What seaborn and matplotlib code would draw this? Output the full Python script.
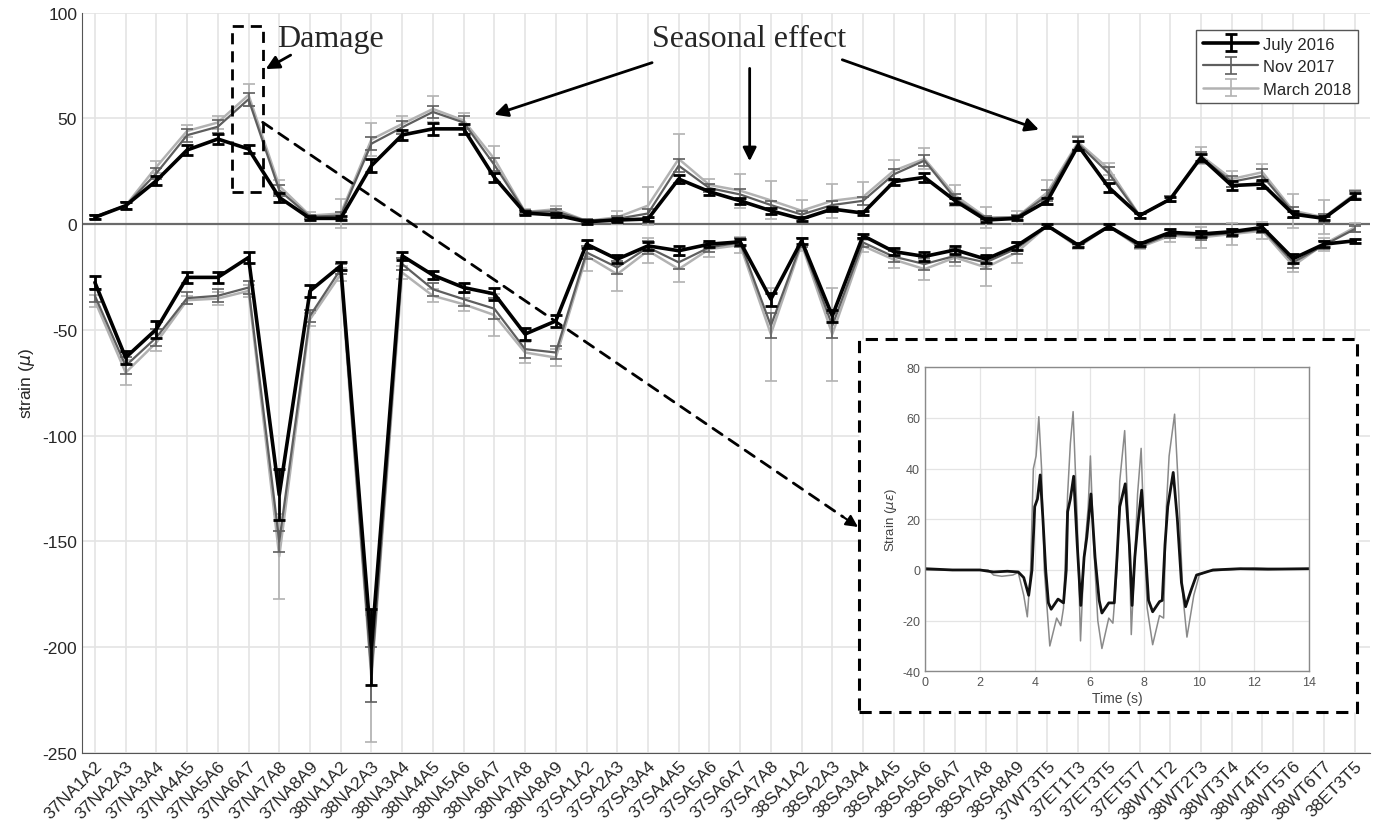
"""
Strain per gauge pair, three surveys, with a time-history inset
"""

import seaborn as sns
import matplotlib as mpl
mpl.use('Agg')
import matplotlib.pyplot as plt
import matplotlib.patches as patches
from matplotlib.legend_handler import HandlerTuple
import numpy as np

gauges = ['37NA1A2', '37NA2A3', '37NA3A4', '37NA4A5', '37NA5A6', '37NA6A7', '37NA7A8',
	'37NA8A9', '38NA1A2', '38NA2A3', '38NA3A4', '38NA4A5', '38NA5A6', '38NA6A7',
	'38NA7A8', '38NA8A9', '37SA1A2', '37SA2A3', '37SA3A4', '37SA4A5', '37SA5A6',
	'37SA6A7', '37SA7A8', '38SA1A2', '38SA2A3', '38SA3A4', '38SA4A5', '38SA5A6',
	'38SA6A7', '38SA7A8', '38SA8A9', '37WT3T5', '37ET1T3', '37ET3T5', '37ET5T7',
	'38WT1T2', '38WT2T3', '38WT3T4', '38WT4T5', '38WT5T6', '38WT6T7', '38ET3T5']

july_pos = [3.2, 8.7, 20.5, 35, 40.2, 35.5, 12.6, 2.7, 2.7, 27.6, 42.1, 45, 45, 22.1, 5.2, 4.3,
	1.1, 1.9, 2.4, 21.3, 15.3, 11, 6.3, 2.4, 7.1, 5.2, 20, 22.1, 11, 1.9, 2.7, 11, 37.1, 17.3,
	4, 11.8, 31.5, 18.2, 18.9, 4.7, 2.7, 13.4]
july_pos_err = [1, 1.5, 2, 2.5, 2.5, 2, 2, 1, 1, 3, 2.5, 3, 2.5, 2, 1, 1, 1, 1, 1, 2, 1.5, 1.5,
	1.5, 1, 1, 1, 1.5, 2, 1.5, 1, 1, 1.5, 2, 2, 1, 1, 1.5, 2, 2, 1.5, 1, 1.5]
july_neg = [-27.6, -63.1, -49.7, -25.2, -25.2, -15.8, -128, -31.6, -19.7, -200, -15, -24.1, -30,
	-33, -52, -45.8, -9.5, -16.6, -10.3, -12.6, -9.5, -8.4, -35.5, -7.9, -43.4, -5.5, -13, -15.3,
	-12.2, -16.6, -10.3, -0.8, -9.9, -1.1, -9.5, -3.9, -4.7, -3.6, -1.6, -16.3, -9.5, -7.9]
july_neg_err = [3, 3, 4, 2.5, 2.5, 2.5, 12, 3, 2, 18, 2, 2, 2, 3, 3, 3, 2, 2, 2, 2, 1.5, 1.5, 3,
	1.5, 3, 1, 1.5, 2, 2, 2, 2, 1, 1, 1, 1, 1.5, 1.5, 1.5, 1.5, 2, 1.5, 1]

nov_pos = [3.5, 8.7, 24, 42, 46, 59, 16, 3.5, 4, 38, 45.7, 53, 48, 28, 5.7, 6, 1.5, 2.5, 5, 27.6,
	17, 14, 9, 4.5, 9, 11, 23.5, 30, 12, 2.7, 3.2, 13.5, 38, 24, 4, 11.8, 31.5, 20, 22.8, 5.5,
	2.7, 13.4]
nov_pos_err = [1, 1.5, 2.5, 3, 3, 3, 2.5, 1, 1.5, 3, 3, 3, 3, 3, 1, 1, 1, 1.5, 2, 3, 2, 2.5, 2,
	1.5, 2, 2, 2.5, 2.5, 2, 1, 1, 2.5, 3, 3, 1, 1.5, 2.5, 2.5, 3, 2.5, 2, 2]
nov_neg = [-33.9, -67, -53.6, -35, -33.9, -30, -150, -43.4, -21.3, -213, -18.9, -30.8, -35.5, -40,
	-59.1, -60.7, -13.4, -20.5, -11, -18.1, -11, -8.7, -48, -8.7, -48, -8.7, -15.4, -18.9, -15,
	-18.1, -11.5, -0.8, -10.5, -1.1, -10.5, -4.7, -5.5, -4.2, -2.4, -18.1, -10, -2.4]
nov_neg_err = [3, 4, 4, 3, 3, 3, 5, 3, 2.5, 13, 3, 3, 3, 5, 4, 3, 3, 3, 3, 3, 2, 2, 6, 2, 6, 2,
	2.5, 3, 3, 3, 2.5, 1, 1, 1, 1, 2, 2, 2, 2, 2.5, 2, 1.5]

march_pos = [3.5, 8.7, 27, 44, 48, 61, 18, 4, 5, 40, 47.3, 54.4, 49, 30.8, 5.7, 7, 1.5, 3.2, 8.7,
	30.8, 18.5, 15.8, 11.2, 6.3, 11, 12.8, 25.2, 30.8, 13.5, 3.2, 3.2, 15, 38.7, 26, 4, 11.8,
	32.4, 21.3, 24.5, 6.3, 3.2, 14.2]
march_pos_err = [1, 1.5, 3, 3, 3, 5, 3, 1.5, 7, 8, 4, 6, 3.5, 6, 1.5, 1.5, 1, 3, 9, 12, 3, 8, 9,
	5, 8, 7, 5, 5, 5, 5, 3, 6, 3, 3, 1, 1.5, 4, 4, 4, 8, 8, 2]
march_neg = [-36.3, -70.2, -56, -36, -35.2, -31.6, -157, -45, -23.7, -215, -22.9, -33.9, -37.9,
	-43, -60.7, -63.1, -15, -23.7, -12.6, -21.3, -11.8, -9.9, -52, -9.5, -52, -10.3, -16.8, -21.3,
	-15.8, -20.5, -13.4, -0.8, -11, -1.1, -11, -5.5, -6.3, -4.7, -3.2, -19.7, -9.5, -1.6]
march_neg_err = [3, 6, 4, 2, 3, 3, 20, 3, 3, 30, 3, 3, 3, 10, 5, 4, 7, 8, 6, 6, 4, 4, 22, 3, 22,
	3, 4, 5, 4, 9, 5, 1, 1, 1, 1, 3, 5, 5, 4, 3, 3, 2]

# inset time history
inset_time_thin = [0, 1, 2.3, 2.5, 2.8, 3.2, 3.4, 3.6, 3.73, 3.85, 3.95, 4.05, 4.15, 4.25, 4.35,
	4.55, 4.8, 4.95, 5.05, 5.2, 5.3, 5.4, 5.55, 5.67, 5.8, 5.95, 6.03, 6.15, 6.3, 6.45, 6.7, 6.85,
	7.0, 7.1, 7.28, 7.45, 7.52, 7.65, 7.75, 7.88, 8.0, 8.1, 8.3, 8.55, 8.7, 8.8, 8.9, 9.1, 9.25,
	9.4, 9.55, 9.8, 10.0, 10.3, 11, 12, 13, 14]
inset_strain_thin = [0, 0, 0, -2, -2.5, -2, -1, -10, -18.5, 0, 40, 45, 60.5, 40, 0, -30, -19, -22,
	-15, 30, 50, 62.5, 20, -28, 5, 25, 45, 10, -20, -31, -19, -21, 0, 35, 55, 10, -25.5, 5, 30,
	48, 10, -15, -29.5, -18, -19, 25, 45, 61.5, 30, -10, -26.5, -10, -2, -0.5, 0, 0.8, 0.5, 0.5]
inset_time_thick = [0, 1, 2, 2.5, 3.0, 3.4, 3.6, 3.78, 3.9, 4.0, 4.1, 4.2, 4.3, 4.4, 4.5, 4.6,
	4.85, 5.05, 5.15, 5.2, 5.3, 5.42, 5.55, 5.68, 5.8, 5.9, 6.05, 6.2, 6.35, 6.45, 6.7, 6.9, 7.0,
	7.1, 7.3, 7.45, 7.55, 7.65, 7.75, 7.9, 8.05, 8.15, 8.3, 8.55, 8.65, 8.75, 8.85, 9.05, 9.2,
	9.35, 9.5, 9.7, 9.9, 10.2, 10.5, 11.5, 12.5, 14]
inset_strain_thick = [0.5, 0, 0, -0.8, -0.5, -0.8, -3, -10, 0, 25, 28, 37.5, 20, 0, -13, -15.5,
	-11.5, -13, 0, 23, 28, 37, 10, -14, 5, 13, 30, 5, -12, -17, -13, -13, 5, 25, 34, 10, -14, 5,
	17, 31.5, 5, -12, -16.5, -12.5, -12, 10, 25, 38.5, 20, -5, -14.5, -8, -2, -1, 0, 0.5, 0.3, 0.5]

def draw_main(ax):
	x = np.arange(len(gauges))
	surveys = [
		("March 2018", march_pos, march_pos_err, march_neg, march_neg_err, '#b2b2b2', 1.8, 1.2, 2),
		("Nov 2017", nov_pos, nov_pos_err, nov_neg, nov_neg_err, '#5e5e5e', 1.6, 1.2, 3),
		("July 2016", july_pos, july_pos_err, july_neg, july_neg_err, '#000000', 2.6, 2.0, 4),
	]
	handles = {}
	for name, pos, pos_err, neg, neg_err, color, lw, elw, z in surveys:
		sns.lineplot(x=x, y=pos, color=color, lw=lw, ax=ax, zorder=z)
		line = ax.lines[-1]
		sns.lineplot(x=x, y=neg, color=color, lw=lw, ax=ax, zorder=z)
		bars = ax.errorbar(x, pos, yerr=pos_err, fmt='none', ecolor=color, elinewidth=elw,
			capsize=4.5, capthick=elw, zorder=z)
		ax.errorbar(x, neg, yerr=neg_err, fmt='none', ecolor=color, elinewidth=elw,
			capsize=4.5, capthick=elw, zorder=z)
		handles[name] = (line, bars)

	ax.axhline(0, color='#6a6a6a', lw=1.6, zorder=1)
	ax.set_xlim(-0.42, len(gauges) - 0.5)
	ax.set_ylim(-250, 100)
	ax.set_xticks(x)
	ax.set_xticklabels(gauges, rotation=45, ha='right', rotation_mode='anchor', fontsize=12.5)
	ax.set_yticks(np.arange(-250, 101, 50))
	ax.tick_params(axis='y', labelsize=12.5)
	ax.tick_params(direction='in', length=5, color='#555555', labelcolor='#262626')
	ax.grid(True, color='#e4e4e4', lw=1.2)
	ax.set_axisbelow(True)
	for side in ['top', 'right']:
		ax.spines[side].set_visible(False)
	for side in ['left', 'bottom']:
		ax.spines[side].set_color('#555555')
	ax.set_ylabel('strain ($\\mu$)', fontsize=12.5, color='#262626')
	ax.set_xlabel('')

	order = ["July 2016", "Nov 2017", "March 2018"]
	leg = ax.legend([handles[n] for n in order], order, handler_map={tuple: HandlerTuple(ndivide=1)},
		loc='upper right', bbox_to_anchor=(0.9907, 0.9764), borderaxespad=0, fontsize=12,
		frameon=True, fancybox=False, edgecolor='#555555', handlelength=3.3, handletextpad=0.3,
		framealpha=1, borderpad=0.4, labelspacing=0.45)
	leg.set_zorder(10)

def draw_notes(fig, ax):
	serif = 'Liberation Serif'
	ax.text(7.68, 87.5, 'Damage', fontsize=23, family=serif, ha='center', va='center')
	ax.text(21.28, 87.5, 'Seasonal effect', fontsize=23, family=serif, ha='center', va='center')
	ax.add_patch(patches.Rectangle((4.45, 15), 1.01, 78.7, fill=False, ec='black', lw=2,
		ls=(0, (4, 2.5)), zorder=6))
	arrow = dict(arrowstyle='-|>', color='black', lw=2, mutation_scale=20)
	ax.annotate('', xy=(5.48, 72.6), xytext=(6.45, 80.5), arrowprops=arrow)
	ax.annotate('', xy=(12.91, 51.3), xytext=(18.22, 76.7), arrowprops=arrow)
	ax.annotate('', xy=(21.31, 28.4), xytext=(21.31, 74.9), arrowprops=arrow)
	ax.annotate('', xy=(30.81, 44.2), xytext=(24.24, 78.1), arrowprops=arrow)

	# dashed leader from the damage box to the inset
	W, H = 1376.0, 829.0
	tip = np.array([858.0, 528.0])
	start = np.array([262.7, 123.3])
	unit = (tip - start) / np.hypot(*(tip - start))
	neck = tip - 18 * unit
	ax.annotate('', xy=(neck[0] / W, 1 - neck[1] / H), xycoords='figure fraction',
		xytext=(5.46, 48.1), textcoords='data',
		arrowprops=dict(arrowstyle='-', color='black', lw=2, ls=(0, (4, 3)), shrinkA=0, shrinkB=0))
	ax.annotate('', xy=(tip[0] / W, 1 - tip[1] / H), xycoords='figure fraction',
		xytext=(neck[0] / W, 1 - neck[1] / H), textcoords='figure fraction',
		arrowprops=dict(arrowstyle='-|>', color='black', lw=1.5, mutation_scale=18, shrinkA=0, shrinkB=0))

	box = patches.Rectangle((859 / W, 1 - 713.3 / H), (1357 - 859) / W, (713.3 - 340) / H,
		transform=fig.transFigure, fc='white', ec='black', lw=2.2, ls=(0, (4, 2.5)), zorder=1)
	fig.add_artist(box)

def draw_inset(fig):
	ins = fig.add_axes([925 / 1376, 1 - 672.3 / 829, (1309 - 925) / 1376, (672.3 - 368.3) / 829], zorder=2)
	sns.lineplot(x=inset_time_thin, y=inset_strain_thin, color='#8a8a8a', lw=1.1, ax=ins, sort=False)
	sns.lineplot(x=inset_time_thick, y=inset_strain_thick, color='#111111', lw=2.0, ax=ins, sort=False)
	ins.set_xlim(0, 14)
	ins.set_ylim(-40, 80)
	ins.set_xticks(np.arange(0, 15, 2))
	ins.set_yticks(np.arange(-40, 81, 20))
	ins.tick_params(direction='in', length=3, labelsize=9, color='#777777', labelcolor='#555555')
	ins.grid(True, color='#e4e4e4', lw=0.9)
	ins.set_axisbelow(True)
	for side in ins.spines.values():
		side.set_visible(True)
		side.set_color('#8a8a8a')
		side.set_linewidth(1)
	ins.set_xlabel('Time (s)', fontsize=10, color='#444444', labelpad=2)
	ins.set_ylabel('Strain ($\\mu\\epsilon$)', fontsize=9.5, color='#444444', labelpad=2)

def main():
	sns.set_style('white')
	plt.rcParams['font.family'] = ['Liberation Sans', 'DejaVu Sans']
	plt.rcParams['axes.unicode_minus'] = False
	fig = plt.figure(figsize=(13.76, 8.29), dpi=100)
	ax = fig.add_axes([82 / 1376, 1 - 754 / 829, 1288 / 1376, (754 - 13.5) / 829])
	draw_main(ax)
	draw_notes(fig, ax)
	draw_inset(fig)
	fig.savefig('out.png', dpi=100)

if __name__ == "__main__":
	main()
